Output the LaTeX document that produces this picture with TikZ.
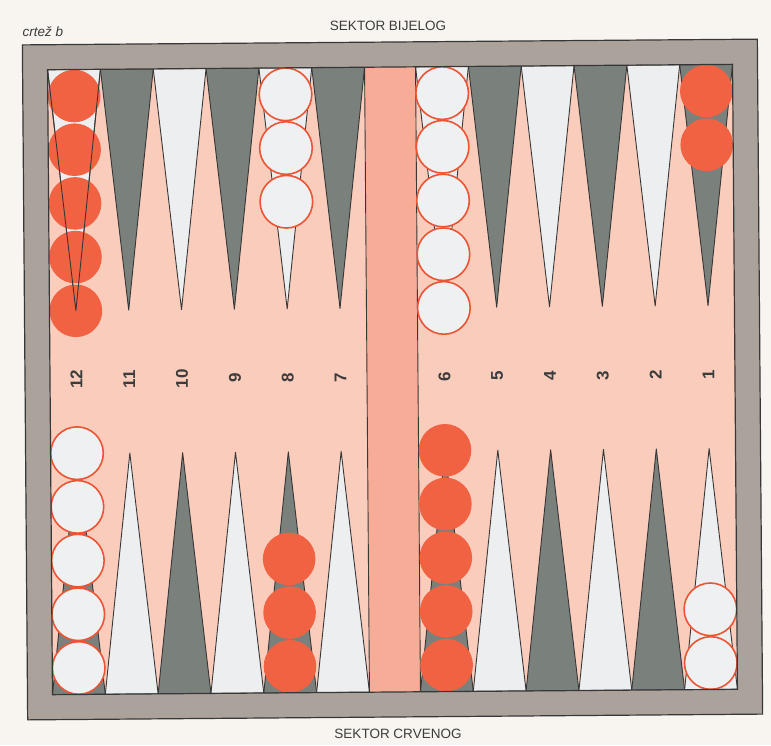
\documentclass[tikz,border=0pt]{standalone}
\usepackage{fontspec}
\setmainfont{Liberation Sans}
\definecolor{paper}{RGB}{248,245,240}
\definecolor{boardpink}{RGB}{249,204,188}
\definecolor{barpink}{RGB}{246,172,150}
\definecolor{darkpt}{RGB}{122,128,124}
\definecolor{lightpt}{RGB}{236,238,240}
\definecolor{framecol}{RGB}{172,162,156}
\definecolor{redchk}{RGB}{240,98,66}
\definecolor{chkline}{RGB}{236,84,52}
\definecolor{whitechk}{RGB}{238,240,241}
\definecolor{lineC}{RGB}{55,55,55}
\definecolor{textC}{RGB}{60,60,60}
\begin{document}
\begin{tikzpicture}[x=1pt,y=-1pt,
  ptline/.style={draw=lineC,line width=0.9pt,line join=round},
  frameline/.style={draw=lineC,line width=1.2pt},
  redchecker/.style={fill=redchk},
  whitechecker/.style={fill=whitechk,draw=chkline,line width=1.6pt},
  numlabel/.style={font=\fontsize{17}{17}\selectfont\bfseries,text=textC,rotate=90,inner sep=0pt},
  titlelabel/.style={font=\fontsize{13.5}{14}\selectfont,text=textC,inner sep=0pt}]
\useasboundingbox (0,0) rectangle (771,745);
\fill[paper] (0,0) rectangle (771,745);
\begin{scope}[rotate around={0.45:(392.75,379.25)}]
  % board surface
  \fill[boardpink] (50,67) rectangle (735,692);
  \fill[barpink] (367,67) rectangle (418,692);
  % points
  \foreach \c/\tc/\bc in {0/lightpt/darkpt,1/darkpt/lightpt,2/lightpt/darkpt,3/darkpt/lightpt,4/lightpt/darkpt,5/darkpt/lightpt,
                          6/lightpt/darkpt,7/darkpt/lightpt,8/lightpt/darkpt,9/darkpt/lightpt,10/lightpt/darkpt,11/darkpt/lightpt}{
    \pgfmathsetmacro{\xl}{\c<6 ? 50+\c*52.833 : 418+(\c-6)*52.833}
    \pgfmathsetmacro{\xm}{\xl+26.417}
    \pgfmathsetmacro{\xr}{\xl+52.833}
    \filldraw[ptline,fill=\tc] (\xl,67) -- (\xm,308) -- (\xr,67) -- cycle;
    \filldraw[ptline,fill=\bc] (\xl,692) -- (\xm,451) -- (\xr,692) -- cycle;
  }
  % bar edges
  \draw[ptline] (367,67) -- (367,692);
  \draw[ptline] (418,67) -- (418,692);
  % checkers on top
  \foreach \c/\n/\st in {0/5/redchecker,4/3/whitechecker,6/5/whitechecker,11/2/redchecker}{
    \pgfmathsetmacro{\xm}{\c<6 ? 50+(\c+0.5)*52.833 : 418+(\c-6+0.5)*52.833}
    \foreach \k in {1,...,\n}{
      \path[\st] (\xm,{67+26.5+(\k-1)*53.7}) circle (26.3);
    }
  }
  % checkers on bottom
  \foreach \c/\n/\st in {0/5/whitechecker,4/3/redchecker,6/5/redchecker,11/2/whitechecker}{
    \pgfmathsetmacro{\xm}{\c<6 ? 50+(\c+0.5)*52.833 : 418+(\c-6+0.5)*52.833}
    \foreach \k in {1,...,\n}{
      \path[\st] (\xm,{692-26.5-(\k-1)*53.7}) circle (26.3);
    }
  }
  % outline of point 12 shows over its red checkers
  \draw[ptline] (50,67) -- (76.417,308) -- (102.833,67);
  % frame
  \fill[framecol,even odd rule] (25,42) rectangle (760,717) (50,67) rectangle (735,692);
  \draw[frameline] (25,42) rectangle (760,717);
  \draw[frameline] (50,67) rectangle (735,692);
  % point numbers
  \foreach \c/\t in {0/12,1/11,2/10,3/9,4/8,5/7,6/6,7/5,8/4,9/3,10/2,11/1}{
    \pgfmathsetmacro{\xm}{\c<6 ? 50+(\c+0.5)*52.833 : 418+(\c-6+0.5)*52.833}
    \node[numlabel] (num\t) at (\xm,377) {\t};
  }
\end{scope}
\node[titlelabel,font=\fontsize{13.5}{14}\selectfont\itshape] (crtez) at (43,32) {crtež b};
\node[titlelabel] (bijelog) at (388,26) {SEKTOR BIJELOG};
\node[titlelabel] (crvenog) at (398,734) {SEKTOR CRVENOG};
\end{tikzpicture}
\end{document}
